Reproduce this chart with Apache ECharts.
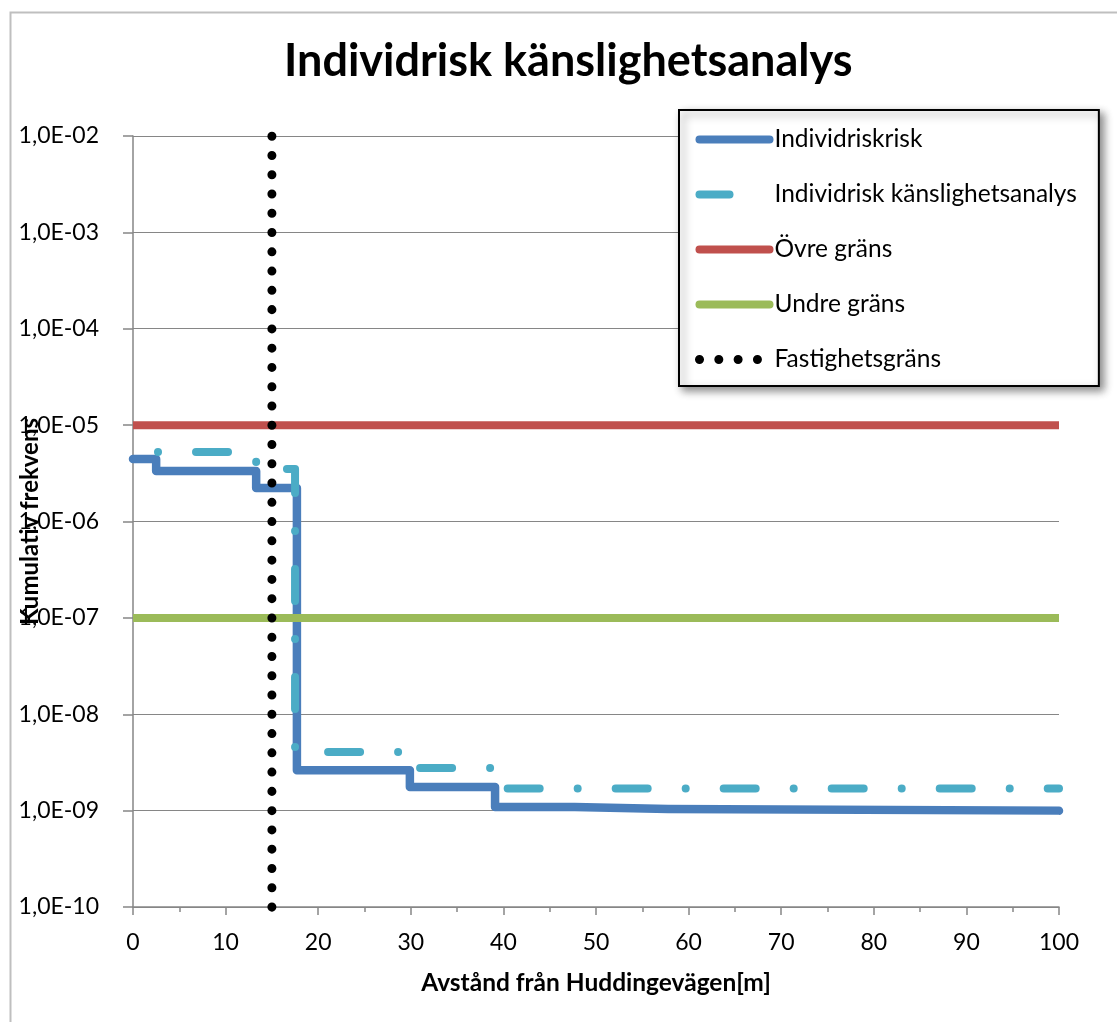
<!DOCTYPE html>
<html>
<head>
<meta charset="utf-8">
<script src="https://cdn.jsdelivr.net/npm/echarts@6/dist/echarts.min.js"></script>
<style>
html,body{margin:0;padding:0;background:#fff;}
#chart{width:1117px;height:1022px;}
</style>
</head>
<body>
<div id="chart"></div>
<script>
// ---- data ----
const titleText = 'Individrisk känslighetsanalys';
const xAxisName = 'Avstånd från Huddingevägen[m]';
const yAxisName = 'Kumulativ frekvens';
const seriesNames = ['Individriskrisk', 'Individrisk känslighetsanalys', 'Övre gräns', 'Undre gräns', 'Fastighetsgräns'];
// step series: [distance, frequency] at start of each level (step 'end')
const riskX = [0, 2.5, 13.3, 17.7, 29.9, 39.1, 47.7, 57.8, 100];
const riskY = [4.45e-6, 3.34e-6, 2.23e-6, 2.63e-9, 1.76e-9, 1.09e-9, 1.04e-9, 1.0e-9, 1.0e-9];
const sensX = [0, 13.3, 17.5, 29.6, 39.3, 100];
const sensY = [5.26e-6, 3.5e-6, 4.06e-9, 2.77e-9, 1.7e-9, 1.7e-9];
const upperX = [0, 100];
const upperY = [1e-5, 1e-5];
const lowerX = [0, 100];
const lowerY = [1e-7, 1e-7];
const borderX = [15, 15];
const borderY = [1e-10, 1e-2];
const xMin = 0, xMax = 100, xStep = 10;
const yMin = 1e-10, yMax = 1e-2;

const zip = (xs, ys) => xs.map((x, i) => [x, ys[i]]);
const FONT = 'Lato';
const colors = ['#4A7EBB', '#4BACC6', '#C0504D', '#9BBB59', '#000000'];

const chart = echarts.init(document.getElementById('chart'), null, {renderer: 'canvas'});
const legendLine = (i, extra) => Object.assign({color: colors[i], width: 8, cap: 'round', type: 'solid', dashOffset: 0, opacity: 1}, extra || {});
const option = {
  animation: false,
  backgroundColor: '#ffffff',
  graphic: [{
    type: 'rect', left: 8, top: 10, z: -10,
    shape: {width: 1300, height: 1200},
    style: {fill: 'none', stroke: '#BFBFBF', lineWidth: 2}
  }],
  title: {
    text: titleText, left: 279, top: 34,
    textStyle: {fontFamily: FONT, fontSize: 45, fontWeight: 'bold', color: '#000'}
  },
  grid: {left: 133, right: 58, top: 136, bottom: 115, containLabel: false, outerBoundsMode: 'none'},
  legend: {
    orient: 'vertical', left: 679, top: 110,
    padding: [17, 22, 14, 16],
    itemWidth: 70, itemHeight: 18, itemGap: 30,
    backgroundColor: '#fff', borderColor: '#000', borderWidth: 2,
    shadowColor: 'rgba(0,0,0,0.45)', shadowBlur: 8, shadowOffsetX: 4, shadowOffsetY: 4,
    textStyle: {fontFamily: FONT, fontSize: 24.5, color: '#000'},
    itemStyle: {opacity: 0},
    data: [
      {name: seriesNames[0], lineStyle: legendLine(0)},
      {name: seriesNames[1], lineStyle: legendLine(1, {type: [30, 200]})},
      {name: seriesNames[2], lineStyle: legendLine(2)},
      {name: seriesNames[3], lineStyle: legendLine(3)},
      {name: seriesNames[4], lineStyle: legendLine(4, {width: 9, type: [0.01, 19.3]})}
    ]
  },
  xAxis: {
    type: 'value', min: xMin, max: xMax, interval: xStep,
    name: xAxisName, nameLocation: 'middle', nameGap: 64, nameMoveOverlap: false,
    nameTextStyle: {fontFamily: FONT, fontSize: 24.5, fontWeight: 'bold', color: '#000'},
    axisLine: {show: true, lineStyle: {color: '#868686', width: 1.5}},
    axisTick: {show: true, length: 8, lineStyle: {color: '#868686', width: 1.5}},
    minorTick: {show: true, splitNumber: 2, length: 5, lineStyle: {color: '#868686', width: 1.5}},
    axisLabel: {fontFamily: FONT, fontSize: 23, color: '#000', margin: 24},
    splitLine: {show: false}
  },
  yAxis: {
    type: 'log', logBase: 10, min: yMin, max: yMax, splitNumber: 8,
    name: yAxisName, nameLocation: 'middle', nameGap: 91, nameRotate: 90, nameMoveOverlap: false,
    nameTextStyle: {fontFamily: FONT, fontSize: 24, fontWeight: 'bold', color: '#000'},
    axisLine: {show: true, lineStyle: {color: '#868686', width: 1.5}},
    axisTick: {show: true, length: 10, lineStyle: {color: '#868686', width: 1.5}},
    axisLabel: {
      fontFamily: FONT, fontSize: 23, color: '#000', margin: 34,
      formatter: v => {
        const e = Math.round(Math.log10(v));
        const s = String(Math.abs(e)).padStart(2, '0');
        return '1,0E' + (e < 0 ? '-' : '+') + s;
      }
    },
    splitLine: {show: true, lineStyle: {color: '#868686', width: 1.2}}
  },
  series: [
    {
      name: seriesNames[0], type: 'line', step: 'end', symbol: 'none',
      data: zip(riskX, riskY), color: colors[0],
      lineStyle: {color: colors[0], width: 8.5, cap: 'round', join: 'round'}
    },
    {
      name: seriesNames[1], type: 'line', step: 'end', symbol: 'none',
      data: zip(sensX, sensY), color: colors[1],
      lineStyle: {color: colors[1], width: 8, cap: 'round', join: 'round', type: [32, 38, 0.01, 38], dashOffset: 45}
    },
    {
      name: seriesNames[2], type: 'line', symbol: 'none',
      data: zip(upperX, upperY), color: colors[2],
      lineStyle: {color: colors[2], width: 8, cap: 'butt'}
    },
    {
      name: seriesNames[3], type: 'line', symbol: 'none',
      data: zip(lowerX, lowerY), color: colors[3],
      lineStyle: {color: colors[3], width: 8, cap: 'butt'}
    },
    {
      name: seriesNames[4], type: 'line', symbol: 'none',
      data: zip(borderX, borderY), color: colors[4], clip: false,
      lineStyle: {color: colors[4], width: 9, cap: 'round', type: [0.01, 19.26]}
    }
  ]
};
chart.setOption(option);
</script>
</body>
</html>
